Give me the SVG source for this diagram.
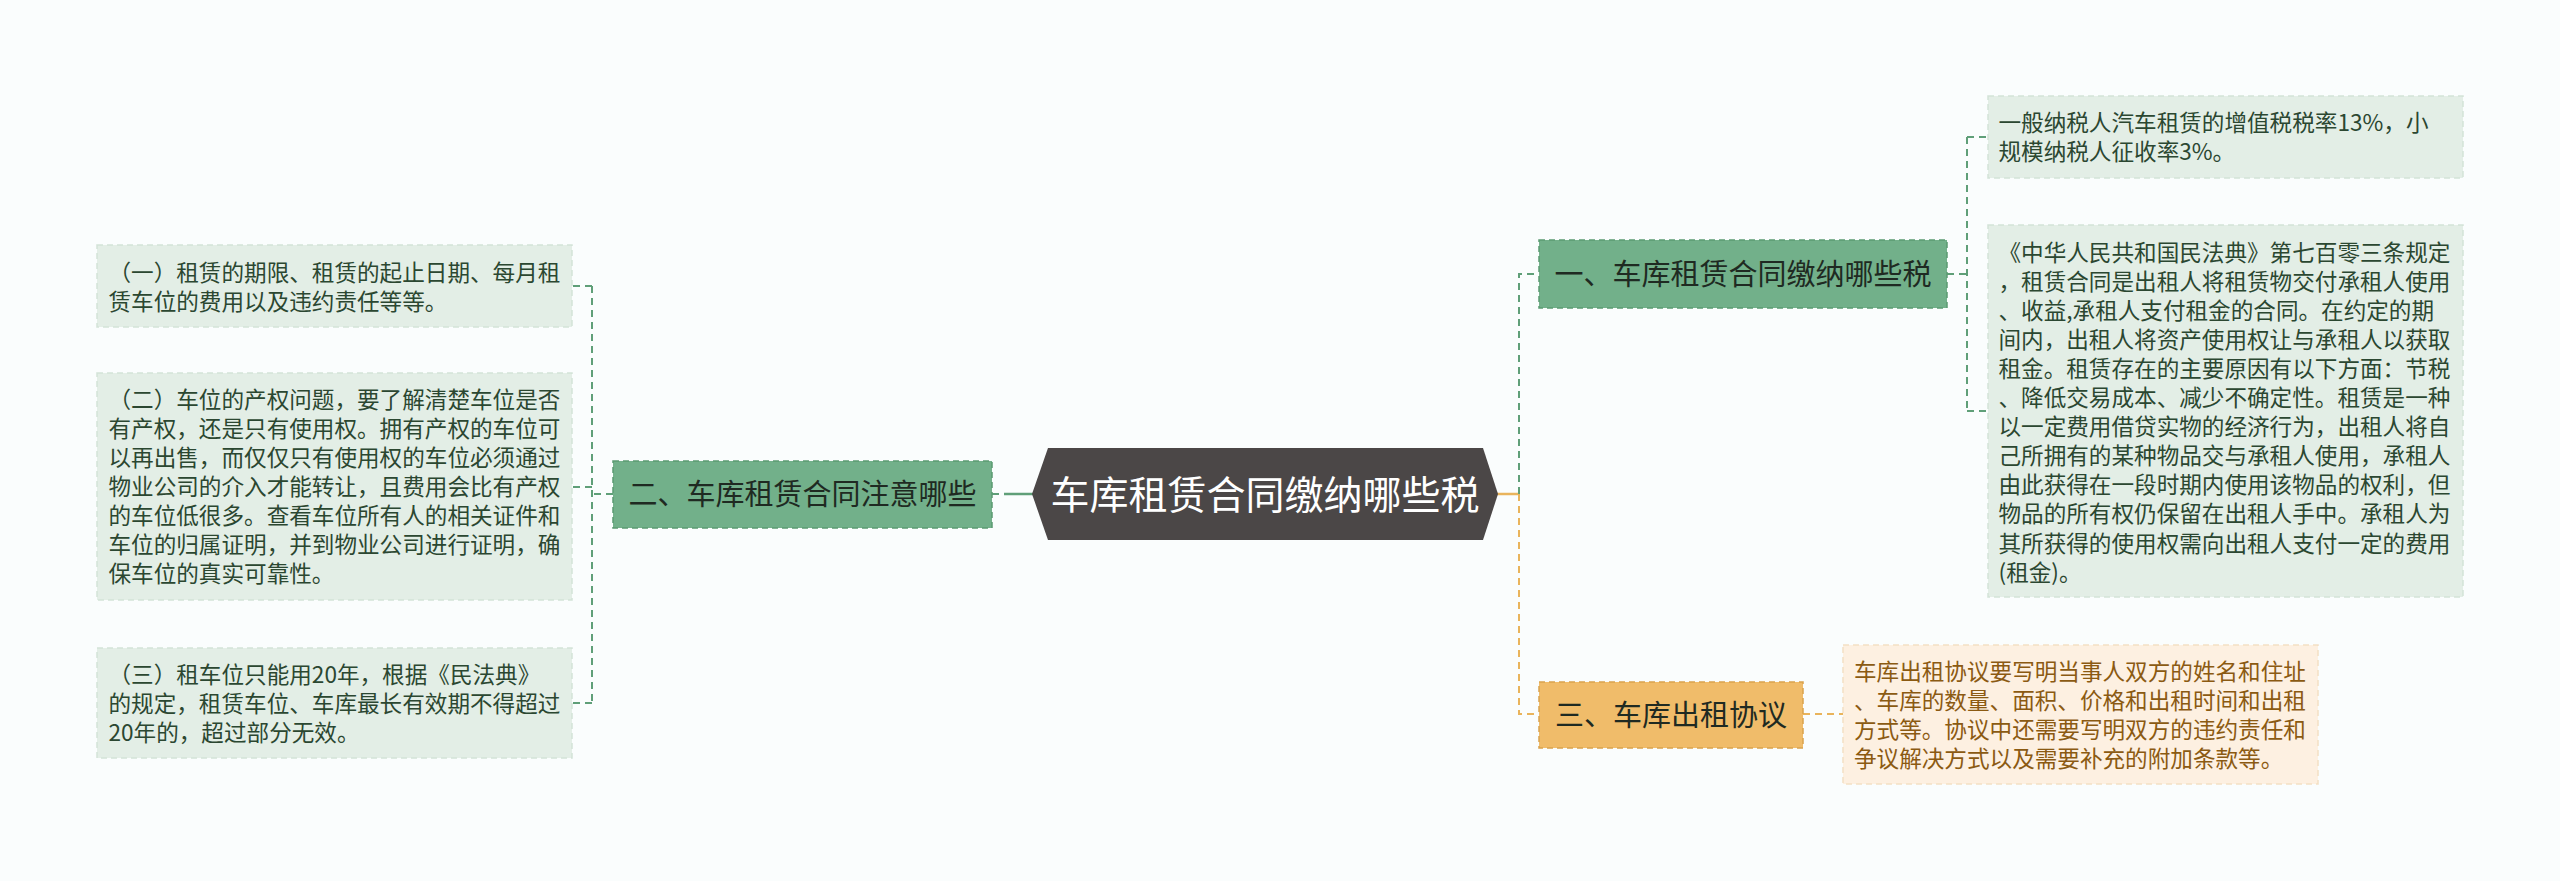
<svg xmlns="http://www.w3.org/2000/svg" width="2560" height="881" viewBox="0 0 2560 881">
<style>
.bg{fill:#fafdfd}
.t{font-family:"Noto Sans CJK SC","Noto Sans",sans-serif}
.main{fill:#4b4747}
.mt{font-size:39px;fill:#ffffff;text-anchor:middle}
.gn{fill:#72b08a;stroke:#5b9a72;stroke-width:1.5;stroke-dasharray:6,4}
.on{fill:#f0bc6a;stroke:#d9a24d;stroke-width:1.5;stroke-dasharray:6,4}
.nt{font-size:29px;fill:#1f2a22;text-anchor:middle}
.gl{fill:#e3eee6;stroke:#d3e3d8;stroke-width:1.5;stroke-dasharray:6,4}
.ol{fill:#fdf0e1;stroke:#f3dfc3;stroke-width:1.5;stroke-dasharray:6,4}
.lt{font-size:22.6px;fill:#2b4731}
.lo{font-size:22.6px;fill:#8b5a12}
.cg{fill:none;stroke:#5f9f78;stroke-width:2;stroke-dasharray:7,5}
.co{fill:none;stroke:#e9b45c;stroke-width:2;stroke-dasharray:7,5}
.sg{fill:none;stroke:#5f9f78;stroke-width:2.5}
.so{fill:none;stroke:#e9b45c;stroke-width:2.5}
</style>
<rect class="bg" x="0" y="0" width="2560" height="881"/>
<g id="connectors">
  <line class="sg" x1="1004" y1="494" x2="1033" y2="494"/>
  <line class="cg" x1="992" y1="494" x2="1002" y2="494"/>
  <line class="so" x1="1497" y1="494" x2="1519" y2="494"/>
  <path class="cg" d="M1519 494 V274 H1539"/>
  <path class="co" d="M1519 494 V714 H1539"/>
  <path class="cg" d="M1947 274 H1967"/>
  <path class="cg" d="M1967 137 V411"/>
  <path class="cg" d="M1967 137 H1988"/>
  <path class="cg" d="M1967 411 H1988"/>
  <path class="co" d="M1803 714 H1843"/>
  <path class="cg" d="M613 494 H592"/>
  <path class="cg" d="M592 286 V703"/>
  <path class="cg" d="M592 286 H572"/>
  <path class="cg" d="M592 487 H572"/>
  <path class="cg" d="M592 703 H572"/>
</g>
<g id="center">
  <polygon class="main" points="1048,448 1483,448 1498,494 1483,540 1048,540 1032,494"/>
  <text class="t mt" x="1265" y="509">车库租赁合同缴纳哪些税</text>
</g>
<g id="n1">
  <rect class="gn" x="1539" y="240" width="408" height="68"/>
  <text class="t nt" x="1743" y="285">一、车库租赁合同缴纳哪些税</text>
</g>
<g id="n2">
  <rect class="gn" x="613" y="461" width="379" height="67"/>
  <text class="t nt" x="802.5" y="505">二、车库租赁合同注意哪些</text>
</g>
<g id="n3">
  <rect class="on" x="1539" y="682" width="264" height="66"/>
  <text class="t nt" x="1671" y="725.5">三、车库出租协议</text>
</g>
<g id="leaf-r1">
  <rect class="gl" x="1988" y="96" width="475" height="82"/>
  <text class="t lt" x="1998.5" y="131">一般纳税人汽车租赁的增值税税率13%，小</text>
  <text class="t lt" x="1998.5" y="160">规模纳税人征收率3%。</text>
</g>
<g id="leaf-r2">
  <rect class="gl" x="1988" y="225" width="475" height="372"/>
  <text class="t lt" x="1998.5" y="260.5">《中华人民共和国民法典》第七百零三条规定</text>
  <text class="t lt" x="1998.5" y="289.6">，租赁合同是出租人将租赁物交付承租人使用</text>
  <text class="t lt" x="1998.5" y="318.7">、收益,承租人支付租金的合同。在约定的期</text>
  <text class="t lt" x="1998.5" y="347.8">间内，出租人将资产使用权让与承租人以获取</text>
  <text class="t lt" x="1998.5" y="376.9">租金。租赁存在的主要原因有以下方面：节税</text>
  <text class="t lt" x="1998.5" y="406">、降低交易成本、减少不确定性。租赁是一种</text>
  <text class="t lt" x="1998.5" y="435.1">以一定费用借贷实物的经济行为，出租人将自</text>
  <text class="t lt" x="1998.5" y="464.2">己所拥有的某种物品交与承租人使用，承租人</text>
  <text class="t lt" x="1998.5" y="493.3">由此获得在一段时期内使用该物品的权利，但</text>
  <text class="t lt" x="1998.5" y="522.4">物品的所有权仍保留在出租人手中。承租人为</text>
  <text class="t lt" x="1998.5" y="551.5">其所获得的使用权需向出租人支付一定的费用</text>
  <text class="t lt" x="1998.5" y="580.6">(租金)。</text>
</g>
<g id="leaf-r3">
  <rect class="ol" x="1843" y="645" width="475" height="139"/>
  <text class="t lo" x="1854" y="680">车库出租协议要写明当事人双方的姓名和住址</text>
  <text class="t lo" x="1854" y="709.1">、车库的数量、面积、价格和出租时间和出租</text>
  <text class="t lo" x="1854" y="738.2">方式等。协议中还需要写明双方的违约责任和</text>
  <text class="t lo" x="1854" y="767.3">争议解决方式以及需要补充的附加条款等。</text>
</g>
<g id="leaf-l1">
  <rect class="gl" x="97" y="245" width="475" height="82"/>
  <text class="t lt" x="108.5" y="280.5">（一）租赁的期限、租赁的起止日期、每月租</text>
  <text class="t lt" x="108.5" y="309.6">赁车位的费用以及违约责任等等。</text>
</g>
<g id="leaf-l2">
  <rect class="gl" x="97" y="373" width="475" height="227"/>
  <text class="t lt" x="108.5" y="407.5">（二）车位的产权问题，要了解清楚车位是否</text>
  <text class="t lt" x="108.5" y="436.6">有产权，还是只有使用权。拥有产权的车位可</text>
  <text class="t lt" x="108.5" y="465.7">以再出售，而仅仅只有使用权的车位必须通过</text>
  <text class="t lt" x="108.5" y="494.8">物业公司的介入才能转让，且费用会比有产权</text>
  <text class="t lt" x="108.5" y="523.9">的车位低很多。查看车位所有人的相关证件和</text>
  <text class="t lt" x="108.5" y="553">车位的归属证明，并到物业公司进行证明，确</text>
  <text class="t lt" x="108.5" y="582.1">保车位的真实可靠性。</text>
</g>
<g id="leaf-l3">
  <rect class="gl" x="97" y="648" width="475" height="110"/>
  <text class="t lt" x="108.5" y="682.5">（三）租车位只能用20年，根据《民法典》</text>
  <text class="t lt" x="108.5" y="711.6">的规定，租赁车位、车库最长有效期不得超过</text>
  <text class="t lt" x="108.5" y="740.7">20年的，超过部分无效。</text>
</g>
</svg>
